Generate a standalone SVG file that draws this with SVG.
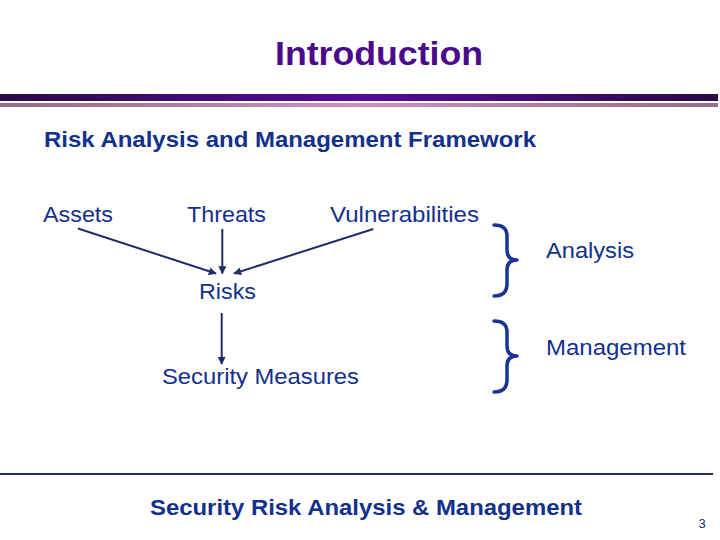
<svg xmlns="http://www.w3.org/2000/svg" width="720" height="540" viewBox="0 0 720 540">
<defs>
<linearGradient id="gPurple" x1="0" x2="1" y1="0" y2="0">
<stop offset="0" stop-color="#2A0A48"/>
<stop offset="0.5" stop-color="#560A98"/>
<stop offset="1" stop-color="#2A0A48"/>
</linearGradient>
<linearGradient id="gPink" x1="0" x2="1" y1="0" y2="0">
<stop offset="0" stop-color="#956A8A"/>
<stop offset="0.5" stop-color="#CC92BC"/>
<stop offset="1" stop-color="#956A8A"/>
</linearGradient>
<marker id="ah" viewBox="0 0 10 10" refX="9" refY="5" markerWidth="4" markerHeight="4" orient="auto" markerUnits="strokeWidth">
<path d="M0,0 L10,5 L0,10 z" fill="#1B2E6B"/>
</marker>
<style>
.lbl{font-family:"Liberation Sans",Arial,sans-serif;font-size:22px;fill:#12308C}
.bold{font-weight:bold}
.conn{stroke:#1B2E6B;stroke-width:2;fill:none;marker-end:url(#ah)}
.brace{stroke:#1A3399;stroke-width:3.5;fill:none;stroke-linecap:round;stroke-linejoin:round}
</style>
</defs>
<rect width="720" height="540" fill="#FFFFFF"/>
<g id="header">
<text x="275" y="65" font-family="Liberation Sans,Arial,sans-serif" font-weight="bold" font-size="33" fill="#4B0A8C" textLength="208" lengthAdjust="spacingAndGlyphs">Introduction</text>
<rect x="0" y="94" width="718" height="7" fill="url(#gPurple)"/>
<rect x="0" y="103" width="718" height="4" fill="url(#gPink)"/>
</g>
<text id="heading" class="lbl bold" x="44" y="146.5" font-size="21" textLength="492" lengthAdjust="spacingAndGlyphs">Risk Analysis and Management Framework</text>
<g id="assets"><text class="lbl" x="43" y="222" textLength="70" lengthAdjust="spacingAndGlyphs">Assets</text></g>
<g id="threats"><text class="lbl" x="187" y="222" textLength="79" lengthAdjust="spacingAndGlyphs">Threats</text></g>
<g id="vulnerabilities"><text class="lbl" x="330" y="222" textLength="149" lengthAdjust="spacingAndGlyphs">Vulnerabilities</text></g>
<g id="risks"><text class="lbl" x="199" y="298.5" textLength="57" lengthAdjust="spacingAndGlyphs">Risks</text></g>
<g id="security-measures"><text class="lbl" x="162" y="384" textLength="197" lengthAdjust="spacingAndGlyphs">Security Measures</text></g>
<g id="analysis">
<path class="brace" d="M494,225 Q507,225 507,236 L507,250 Q507,260 517,260 Q507,260 507,270 L507,284 Q507,296 494,296"/>
<text class="lbl" x="546" y="258" textLength="88" lengthAdjust="spacingAndGlyphs">Analysis</text>
</g>
<g id="management">
<path class="brace" d="M494,321 Q507,321 507,332 L507,346 Q507,356 517,356 Q507,356 507,366 L507,380 Q507,392 494,392"/>
<text class="lbl" x="546" y="355" textLength="140" lengthAdjust="spacingAndGlyphs">Management</text>
</g>
<g id="connectors">
<line class="conn" x1="78" y1="228.5" x2="216" y2="273.5"/>
<line class="conn" x1="222.3" y1="229" x2="222.3" y2="273.5"/>
<line class="conn" x1="373.3" y1="229" x2="234" y2="273.5"/>
<line class="conn" x1="221.7" y1="313" x2="221.7" y2="364"/>
</g>
<g id="footer">
<line x1="0" y1="474" x2="713" y2="474" stroke="#1F2D5E" stroke-width="2"/>
<text class="lbl bold" x="150" y="515" font-size="23" textLength="432" lengthAdjust="spacingAndGlyphs">Security Risk Analysis &amp; Management</text>
<text x="698.5" y="528" font-family="Liberation Sans,Arial,sans-serif" font-size="13" fill="#1F2D5E">3</text>
</g>
</svg>
